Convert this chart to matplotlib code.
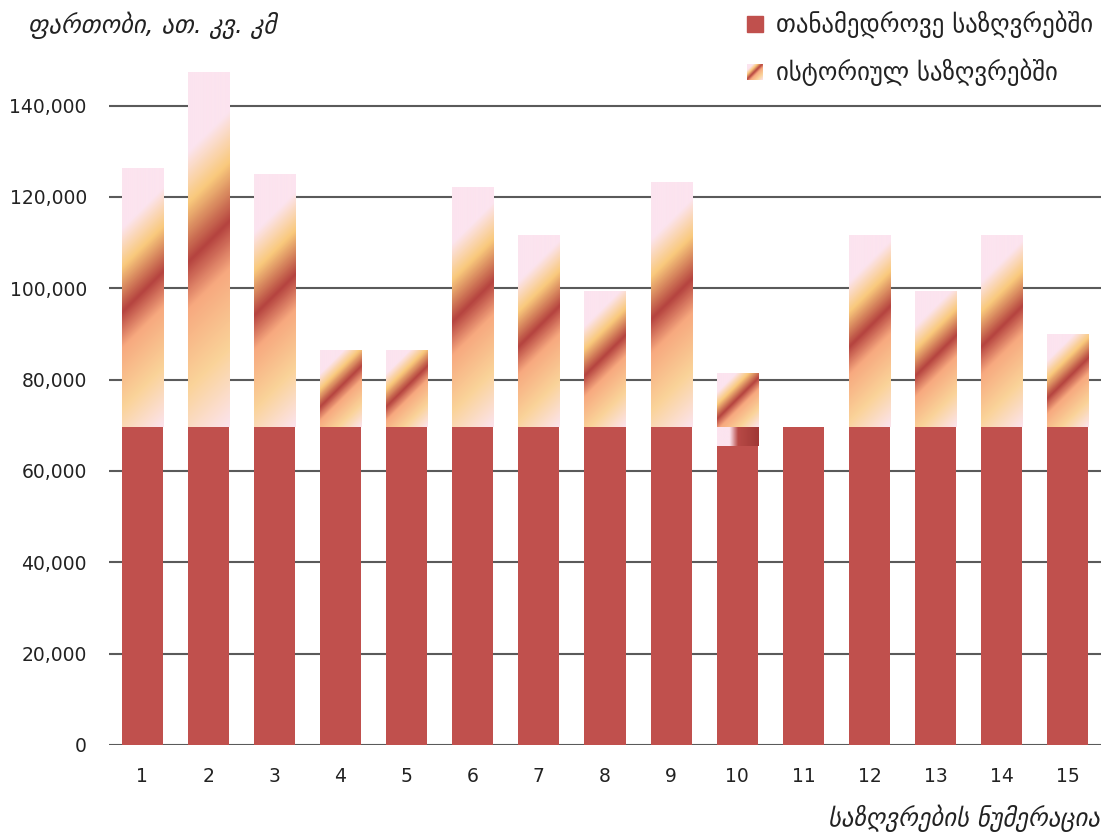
import numpy as np
import matplotlib
matplotlib.use("Agg")
import matplotlib.pyplot as plt
from matplotlib.colors import LinearSegmentedColormap
from matplotlib.patches import Rectangle

# ---- data ----
categories = [str(i) for i in range(1, 16)]
modern = [69700, 69700, 69700, 69700, 69700, 69700, 69700, 69700, 69700, 65400,
          69700, 69700, 69700, 69700, 69700]
transition = [0, 0, 0, 0, 0, 0, 0, 0, 0, 4300, 0, 0, 0, 0, 0]
historical_total = [126400, 147400, 125100, 86500, 86500, 122200, 111700, 99450,
                    123300, 81500, 0, 111700, 99450, 111700, 90000]
yticks = [0, 20000, 40000, 60000, 80000, 100000, 120000, 140000]
ytick_labels = ["0", "20,000", "40,000", "60,000", "80,000", "100,000", "120,000", "140,000"]
legend_labels = ["თანამედროვე საზღვრებში", "ისტორიულ საზღვრებში"]
ylabel = "ფართობი, ათ. კვ. კმ"
xlabel = "საზღვრების ნუმერაცია"

W, H = 1107, 835
fig = plt.figure(figsize=(W / 100, H / 100), dpi=100)
ax = fig.add_axes([109 / W, 90 / H, (1101 - 109) / W, (745 - 60) / H])
ax.set_xlim(0.5, 15.5)
ax.set_ylim(0, 150000)

red = "#C0504D"
grad_cmap = LinearSegmentedColormap.from_list("hist", [
    (0.0, "#FCE4EF"), (0.2, "#FCE4EF"), (0.33, "#F9C97C"), (0.48, "#B5433F"),
    (0.6, "#F7A97F"), (0.8, "#FAD399"), (1.0, "#FCE4EF")])
band_cmap = LinearSegmentedColormap.from_list("band", [
    (0.0, "#FCE4EF"), (0.3, "#FCE4EF"), (0.5, "#B84A46"), (1.0, "#A03836")])

bw = 0.62
x = np.arange(1, 16)
ax.bar(x, modern, width=bw, color=red, zorder=2)

def px_size(x0, x1, y0, y1):
    p0 = ax.transData.transform((x0, y0))
    p1 = ax.transData.transform((x1, y1))
    return abs(p1[0] - p0[0]), abs(p1[1] - p0[1])

for i in range(15):
    xc = x[i]
    x0, x1 = xc - bw / 2, xc + bw / 2
    # transition band (bar 10)
    if transition[i] > 0:
        yb0 = modern[i]
        yb1 = modern[i] + transition[i]
        wpx, hpx = px_size(x0, x1, yb0, yb1)
        nx = int(np.ceil(wpx * 2))
        t = np.tile(np.linspace(0, 1, nx), (4, 1))
        ax.imshow(t, cmap=band_cmap, extent=(x0, x1, yb0, yb1), aspect="auto",
                  interpolation="bilinear", zorder=2, vmin=0, vmax=1)
    base = modern[i] + transition[i]
    top = historical_total[i]
    if top > base:
        wpx, hpx = px_size(x0, x1, base, top)
        s = 2
        nx, ny = int(np.ceil(wpx * s)), int(np.ceil(hpx * s))
        cc, rr = np.meshgrid(np.arange(nx) + 0.5, np.arange(ny) + 0.5)
        t = (cc + rr) / (nx + ny)
        ax.imshow(t, cmap=grad_cmap, extent=(x0, x1, base, top), aspect="auto",
                  interpolation="bilinear", zorder=2, vmin=0, vmax=1)

ax.set_xlim(0.5, 15.5)
ax.set_ylim(0, 150000)

ax.set_yticks(yticks)
ax.set_yticklabels(ytick_labels)
ax.set_xticks(x)
ax.set_xticklabels(categories)
ax.tick_params(axis="both", length=0, labelsize=13.5, colors="#222222")
ax.tick_params(axis="y", pad=16)
ax.tick_params(axis="x", pad=16)
ax.yaxis.grid(True, color="#5A5A5A", linewidth=1.5, zorder=1)
ax.set_axisbelow(True)
for s in ax.spines.values():
    s.set_visible(False)

# y label & x label (italic)
fig.text(28 / W, 1 - 25 / H, ylabel, fontsize=17.8, style="italic", color="#222222",
         ha="left", va="center", family="DejaVu Sans")
fig.text(1100 / W, 1 - 818 / H, xlabel, fontsize=17.8, style="italic", color="#222222",
         ha="right", va="center", family="DejaVu Sans")

# legend (manual)
lax = fig.add_axes([0, 0, 1, 1], facecolor="none")
lax.set_xlim(0, W)
lax.set_ylim(H, 0)
lax.axis("off")
lax.add_patch(Rectangle((747, 16), 16, 16, color=red))
cc, rr = np.meshgrid(np.arange(32) + 0.5, np.arange(32) + 0.5)
tl = (cc + rr) / 64
lax.imshow(tl, cmap=grad_cmap, extent=(747, 763, 80, 64), aspect="auto",
           interpolation="bilinear", vmin=0, vmax=1)
lax.set_xlim(0, W)
lax.set_ylim(H, 0)
lax.text(776, 24, legend_labels[0], fontsize=17.8, color="#222222", va="center", ha="left")
lax.text(776, 72, legend_labels[1], fontsize=17.8, color="#222222", va="center", ha="left")

fig.savefig("out.png", dpi=100)
